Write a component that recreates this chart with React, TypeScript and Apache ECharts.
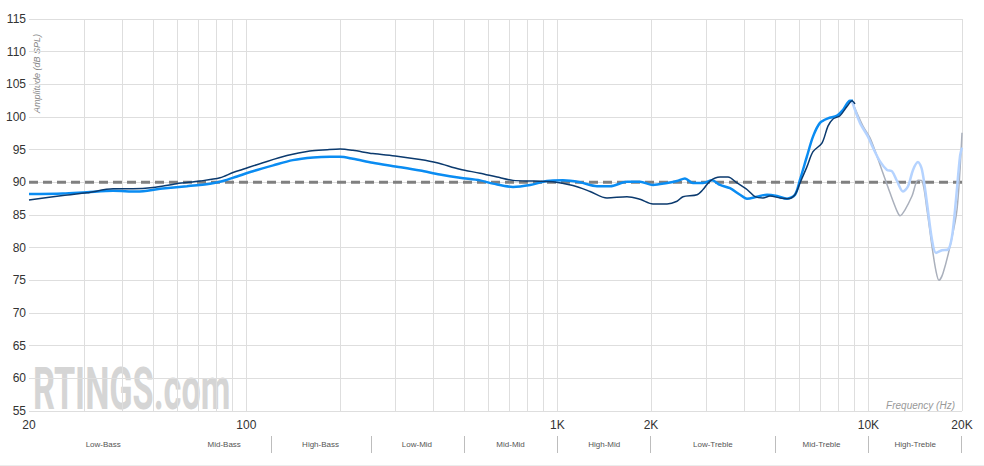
import React, { useEffect, useRef } from "react";
import * as echarts from "echarts";

// ---- data (frequency in Hz, amplitude in dB SPL) ----
const darkFreq = [20, 25.7, 30.7, 37.3, 43.2, 50.1, 59.7, 70.9, 82.3, 90.6, 97.5, 113, 135, 160, 182, 200, 220, 255, 305, 362, 410, 486, 564, 640, 720, 835, 968, 1122, 1274, 1444, 1674, 1844, 2030, 2252, 2425, 2535, 2812, 2940, 3097, 3335, 3537, 3781, 4071, 4321, 4583, 4829, 5198, 5516, 5808, 6028, 6348, 6636, 7090, 7414, 7694, 8104, 8534, 8860, 9058];
const darkDb = [87.3, 88.0, 88.4, 89.0, 89.0, 89.2, 89.8, 90.2, 90.7, 91.5, 92.0, 93.0, 94.1, 94.8, 95.0, 95.1, 94.9, 94.4, 94.0, 93.5, 93.0, 92.0, 91.4, 90.8, 90.3, 90.2, 90.1, 89.5, 88.6, 87.6, 87.8, 87.4, 86.7, 86.7, 87.1, 87.8, 88.1, 88.9, 90.2, 90.8, 90.8, 89.9, 88.9, 87.8, 87.6, 87.9, 87.6, 87.5, 88.1, 89.9, 92.4, 94.7, 96.0, 98.6, 99.7, 100.2, 101.6, 102.5, 102.0];

const blueFreq = [20, 25.7, 30.7, 37.3, 44.5, 52.8, 64.4, 76.4, 84.1, 93.3, 105, 122, 141, 164, 186, 200, 220, 255, 305, 362, 419, 486, 564, 621, 720, 817, 926, 1042, 1182, 1341, 1477, 1674, 1844, 2030, 2252, 2425, 2572, 2729, 2940, 3142, 3335, 3590, 3866, 4071, 4384, 4722, 5084, 5474, 5808, 6028, 6348, 6636, 6988, 7414, 7930, 8292, 8726, 8926];
const blueDb = [88.2, 88.3, 88.5, 88.7, 88.6, 89.0, 89.4, 89.8, 90.2, 90.9, 91.7, 92.6, 93.4, 93.8, 93.9, 93.9, 93.6, 93.0, 92.4, 91.8, 91.2, 90.7, 90.3, 89.8, 89.3, 89.6, 90.2, 90.3, 90.0, 89.4, 89.4, 90.1, 90.1, 89.6, 89.9, 90.2, 90.6, 89.9, 89.9, 90.3, 89.6, 89.1, 88.1, 87.5, 87.8, 88.1, 87.9, 87.5, 88.1, 90.4, 94.0, 97.0, 99.1, 99.8, 100.2, 101.1, 102.5, 102.5];

const grayFreq = [8860, 9192, 9608, 10120, 10660, 11144, 11736, 12362, 12638, 13116, 13814, 14442, 14876, 15436, 16016, 16498, 16868, 17376, 18300, 19272, 20000];
const grayDb = [102.4, 100.6, 98.6, 96.8, 94.0, 91.4, 88.4, 85.6, 84.9, 85.8, 87.9, 90.3, 90.2, 85.8, 80.2, 76.4, 75.0, 76.1, 80.2, 85.8, 97.6];

const lightFreq = [8860, 9398, 9970, 10348, 10898, 11478, 11912, 12362, 12924, 13412, 13916, 14442, 14876, 15436, 16016, 16498, 17248, 18030, 18572, 19130, 19708, 20000];
const lightDb = [102.4, 99.1, 97.0, 95.3, 93.2, 91.9, 91.7, 90.2, 88.6, 89.4, 91.9, 93.1, 91.9, 86.8, 81.2, 79.2, 79.6, 79.7, 81.7, 87.4, 94.0, 95.3];

const targetDb = 90;
const freqMin = 20;
const freqMax = 20000;
const gridFreqs = [30, 40, 50, 60, 70, 80, 90, 100, 200, 300, 400, 500, 600, 700, 800, 900, 1000, 2000, 3000, 4000, 5000, 6000, 7000, 8000, 9000, 10000, 20000];
const labelFreqs = [20, 100, 1000, 2000, 10000, 20000];
const bandNames = ["Low-Bass", "Mid-Bass", "High-Bass", "Low-Mid", "Mid-Mid", "High-Mid", "Low-Treble", "Mid-Treble", "High-Treble"];
const bandEdges = [20, 60, 120, 250, 500, 1000, 2000, 5000, 10000, 20000];
const bandDividers = [20, 120, 250, 500, 1000, 2000, 5000, 10000, 20000];

const lg = (f: number) => Math.log10(f);
const pairs = (fs: number[], ds: number[]) => fs.map((f, i) => [lg(f), ds[i]]);
const fmtFreq = (v: number) => {
  const f = Math.round(Math.pow(10, v));
  return f >= 1000 ? `${Math.round(f / 1000)}K` : `${f}`;
};

const FONT = 'Arial, "Liberation Sans", Helvetica, sans-serif';

export default function App() {
  const ref = useRef<HTMLDivElement>(null);
  useEffect(() => {
    document.body.style.margin = "0";
    const chart = echarts.init(ref.current!, null, { renderer: "svg" });
    const option: any = {
      animation: false,
      textStyle: { fontFamily: FONT },
      grid: [
        { left: 29, right: 22, top: 19, bottom: 55 },
        { left: 29, right: 22, top: 436, height: 17 },
      ],
      xAxis: [
        {
          type: "value",
          gridIndex: 0,
          min: lg(freqMin),
          max: lg(freqMax),
          axisLine: { show: false },
          axisTick: { show: false, customValues: gridFreqs.map(lg) },
          splitLine: { show: true, lineStyle: { color: "#dedede", width: 1 } },
          axisLabel: {
            customValues: labelFreqs.map(lg),
            formatter: fmtFreq,
            fontSize: 12,
            color: "#333",
            margin: 8,
            fontFamily: FONT,
          },
        },
        { type: "value", gridIndex: 1, min: lg(freqMin), max: lg(freqMax), show: false },
      ],
      yAxis: [
        {
          type: "value",
          gridIndex: 0,
          min: 55,
          max: 115,
          interval: 5,
          axisLine: { show: false },
          axisTick: { show: false },
          splitLine: { show: true, lineStyle: { color: "#dedede", width: 1 } },
          axisLabel: { fontSize: 12, color: "#333", margin: 3, fontFamily: FONT },
        },
        { type: "value", gridIndex: 1, min: 0, max: 1, show: false },
      ],
      series: [
        {
          name: "Target",
          type: "line",
          data: [
            [lg(freqMin), targetDb],
            [lg(freqMax), targetDb],
          ],
          showSymbol: false,
          silent: true,
          z: 1,
          lineStyle: { color: "#808080", width: 3, type: [9, 5] },
        },
        {
          name: "Bands",
          type: "line",
          xAxisIndex: 1,
          yAxisIndex: 1,
          data: [],
          silent: true,
          markLine: {
            silent: true,
            symbol: ["none", "none"],
            label: { show: false },
            lineStyle: { color: "#bdbdbd", width: 1, type: "solid" },
            data: bandDividers.map((f) => ({ xAxis: lg(f) })),
          },
          markArea: {
            silent: true,
            itemStyle: { color: "rgba(255,255,255,0)", borderWidth: 0 },
            label: {
              show: true,
              position: "inside",
              fontSize: 8,
              color: "#555555",
              textBorderWidth: 0,
              textBorderColor: "transparent",
              fontFamily: FONT,
            },
            data: bandNames.map((n, i) => [
              { name: n, xAxis: lg(bandEdges[i]) },
              { xAxis: lg(bandEdges[i + 1]) },
            ]),
          },
        },
        {
          name: "Gray",
          type: "line",
          data: pairs(grayFreq, grayDb),
          showSymbol: false,
          smooth: 0.3,
          z: 2,
          lineStyle: { color: "#aab0bc", width: 1.5 },
        },
        {
          name: "LightBlue",
          type: "line",
          data: pairs(lightFreq, lightDb),
          showSymbol: false,
          smooth: 0.3,
          z: 3,
          lineStyle: { color: "#b5d3ff", width: 2.5 },
        },
        {
          name: "Blue",
          type: "line",
          data: pairs(blueFreq, blueDb),
          showSymbol: false,
          smooth: 0.3,
          z: 4,
          lineStyle: { color: "#0a8cf2", width: 2.5 },
        },
        {
          name: "Dark",
          type: "line",
          data: pairs(darkFreq, darkDb),
          showSymbol: false,
          smooth: 0.3,
          z: 5,
          lineStyle: { color: "#0b3a6e", width: 1.5 },
        },
      ],
      graphic: [
        {
          type: "text",
          x: 33,
          y: 389,
          z: 0,
          scaleX: 0.58,
          silent: true,
          style: {
            text: "RTINGS.com",
            fill: "#d5d5d5",
            font: 'bold 59px Roboto, "Liberation Sans", sans-serif',
            verticalAlign: "middle",
            align: "left",
          },
        },
        {
          type: "text",
          x: 37,
          y: 113,
          rotation: Math.PI / 2,
          silent: true,
          style: {
            text: "Amplitude (dB SPL)",
            fill: "#888",
            font: `italic 9px ${FONT}`,
            align: "left",
            verticalAlign: "middle",
          },
        },
        {
          type: "text",
          x: 955,
          y: 405,
          silent: true,
          style: {
            text: "Frequency (Hz)",
            fill: "#999",
            font: `italic 10px ${FONT}`,
            align: "right",
            verticalAlign: "middle",
          },
        },
        {
          type: "line",
          silent: true,
          shape: { x1: 0, y1: 465.5, x2: 984, y2: 465.5 },
          style: { stroke: "#ececec", lineWidth: 1 },
        },
      ],
    };
    chart.setOption(option);
    return () => chart.dispose();
  }, []);
  return <div ref={ref} style={{ width: 984, height: 466 }} />;
}
